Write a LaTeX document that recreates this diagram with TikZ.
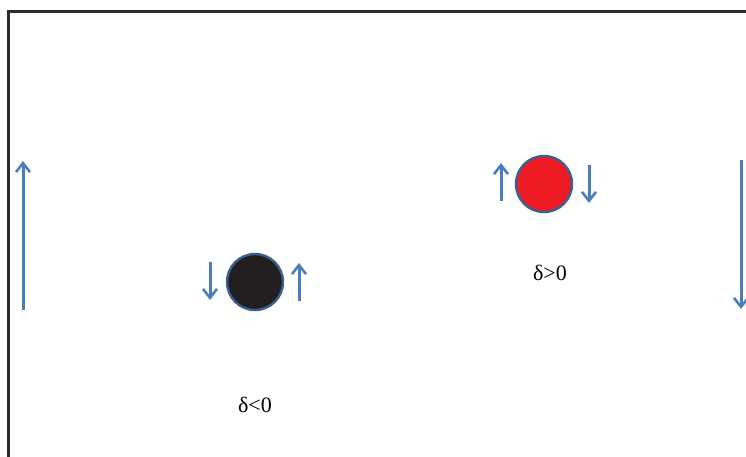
\documentclass[tikz,border=0pt]{standalone}
\usepackage{fontspec}
\setmainfont{Liberation Serif}
\usetikzlibrary{arrows.meta}
\definecolor{arrblue}{HTML}{4A7EBB}
\definecolor{ringblue}{HTML}{3A5F8F}
\definecolor{dotblack}{HTML}{231F20}
\definecolor{dotred}{HTML}{ED1C24}
\definecolor{framegray}{HTML}{2B2B2B}
\begin{document}
\begin{tikzpicture}[x=1pt,y=-1pt,
  framestyle/.style={draw=framegray,line width=3pt},
  flowarrow/.style={draw=arrblue,line width=3pt,-{Straight Barb[length=9pt,width=14pt,line width=2.6pt]}},
  ball/.style={circle,draw=ringblue,line width=2.4pt,minimum size=56pt,inner sep=0pt},
  lab/.style={font=\fontsize{22}{25}\selectfont,inner sep=0pt}]
\useasboundingbox (0,0) rectangle (746,456);
\coordinate (ftl) at (8,11);
\coordinate (ftr) at (748,11);
\coordinate (fbl) at (8,458);
\draw[framestyle] (ftr) -- (ftl) -- (fbl);
% big side arrows
\coordinate (la0) at (23,310);
\coordinate (la1) at (23,161);
\draw[flowarrow] (la0) -- (la1);
\coordinate (ra0) at (741,160);
\coordinate (ra1) at (741,309);
\draw[flowarrow] (ra0) -- (ra1);
% black ball
\node[ball,fill=dotblack] (bb) at (255,282) {};
\coordinate (b1a) at (210,262);
\coordinate (b1b) at (210,300);
\draw[flowarrow] (b1a) -- (b1b);
\coordinate (b2a) at (299,301);
\coordinate (b2b) at (299,263);
\draw[flowarrow] (b2a) -- (b2b);
\node[lab] (lneg) at (255,405) {δ<0};
% red ball
\node[ball,fill=dotred] (rb) at (544,184) {};
\coordinate (r1a) at (501,201);
\coordinate (r1b) at (501,163);
\draw[flowarrow] (r1a) -- (r1b);
\coordinate (r2a) at (589,165);
\coordinate (r2b) at (589,203);
\draw[flowarrow] (r2a) -- (r2b);
\node[lab] (lpos) at (550,273) {δ>0};
\end{tikzpicture}
\end{document}
